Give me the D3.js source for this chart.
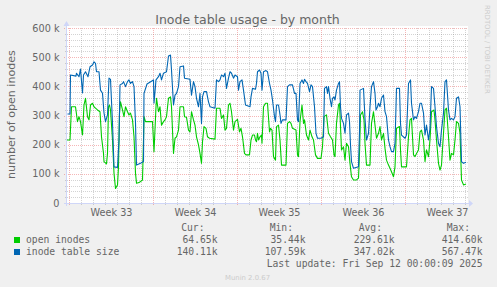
<!DOCTYPE html>
<html>
<head>
<meta charset="utf-8">
<script src="https://cdn.jsdelivr.net/npm/d3@7"></script>
<style>
  body { margin: 0; background: #f0f0f0; }
  svg { display: block; }
  text { font-family: "DejaVu Sans", sans-serif; fill: #666666; }
  .mono { font-family: "DejaVu Sans Mono", monospace; font-size: 9.7px; }
</style>
</head>
<body>
<svg id="chart" width="497" height="287"></svg>
<script>
"use strict";

// Monday 11 Aug 2025 00:00, start of week 33
const start = Date.UTC(2025, 7, 11);
const hour = 3600 * 1000;

// [hours after start, thousands]
const openInodes = [
  [-4,216],[2,216],[5,330],[13,330],[17,279],[20,296],[23,279],[27,233],[30,336],[33,359],
  [37,296],[40,285],[43,336],[47,342],[50,330],[53,325],[57,319],[62,313],[65,227],[69,170],
  [70,142],[75,134],[77,170],[79,330],[81,336],[83,319],[87,216],[90,102],[93,50],[97,62],
  [99,124],[101,308],[103,347],[107,319],[110,296],[113,330],[117,313],[120,302],[123,308],[127,285],
  [130,227],[133,102],[135,68],[140,70],[147,79],[149,216],[150,296],[153,279],[167,279],[170,176],
  [174,330],[175,359],[179,313],[182,330],[185,267],[189,279],[192,285],[195,296],[199,359],[203,364],
  [205,330],[209,170],[212,222],[215,227],[219,250],[222,330],[229,330],[231,296],[235,294],[239,250],
  [242,244],[245,313],[249,285],[252,267],[255,227],[259,199],[262,170],[265,136],[267,210],[270,262],
  [274,256],[277,227],[281,222],[292,219],[295,325],[302,325],[305,290],[309,302],[312,250],[315,256],
  [319,336],[322,342],[325,313],[329,250],[332,279],[337,287],[341,244],[344,256],[347,227],[351,170],
  [354,165],[361,165],[364,216],[367,233],[371,233],[373,216],[375,210],[377,239],[379,216],[382,227],
  [385,233],[386,205],[389,330],[393,342],[397,342],[401,244],[403,256],[406,250],[409,159],[413,147],
  [415,262],[419,267],[422,216],[425,130],[434,130],[437,273],[441,279],[444,273],[447,256],[454,250],
  [457,165],[459,159],[462,279],[466,336],[469,273],[471,285],[475,233],[479,216],[482,250],[486,227],
  [489,216],[493,165],[497,153],[504,153],[507,193],[510,296],[515,302],[519,239],[523,227],[527,216],
  [530,165],[532,159],[535,273],[539,336],[541,342],[543,262],[545,182],[549,193],[552,147],[555,205],
  [559,193],[562,136],[565,90],[569,79],[575,79],[579,85],[581,170],[583,302],[587,313],[590,285],
  [592,205],[595,130],[602,130],[605,273],[609,313],[612,267],[615,222],[619,239],[622,262],[625,216],
  [629,239],[632,188],[635,147],[639,130],[642,119],[645,107],[649,90],[652,124],[655,256],[661,262],
  [663,182],[665,124],[675,124],[679,227],[682,285],[685,290],[689,165],[692,159],[695,170],[699,182],
  [702,244],[705,250],[709,216],[712,142],[715,182],[719,159],[722,216],[725,313],[730,319],[732,285],
  [735,216],[739,136],[742,113],[745,130],[749,239],[752,319],[755,325],[759,227],[762,147],[765,170],
  [769,165],[772,216],[775,279],[779,273],[782,239],[785,79],[789,62],[794,65]
];

const tableSize = [
  [-3,305],[2,305],[3,439],[14,435],[15,445],[20,433],[23,459],[27,377],[29,439],[33,450],
  [38,433],[42,467],[47,473],[50,484],[53,479],[55,450],[60,450],[63,387],[67,376],[70,309],
  [73,279],[77,302],[80,428],[83,424],[87,274],[90,124],[97,122],[100,216],[102,405],[107,410],
  [109,416],[113,399],[117,416],[120,422],[123,410],[127,416],[130,399],[133,274],[135,130],[143,136],
  [149,142],[150,376],[156,408],[169,422],[170,342],[174,422],[179,433],[182,445],[185,422],[189,445],
  [195,450],[199,504],[203,507],[205,456],[209,336],[212,370],[215,376],[219,399],[222,467],[229,470],
  [231,428],[242,424],[245,370],[249,416],[252,399],[255,359],[259,330],[262,376],[265,273],[267,364],
  [270,382],[275,382],[279,347],[282,330],[292,325],[295,422],[299,416],[302,422],[305,439],[309,433],
  [312,445],[315,393],[319,428],[322,450],[325,445],[329,428],[332,439],[337,433],[339,387],[342,416],
  [346,422],[349,387],[353,336],[362,330],[364,364],[367,393],[373,390],[375,410],[377,450],[381,456],
  [384,445],[386,387],[389,450],[394,454],[397,450],[401,410],[404,387],[407,353],[411,296],[413,279],
  [415,336],[419,336],[422,302],[424,273],[427,285],[434,285],[437,399],[441,405],[447,405],[451,376],
  [454,376],[457,285],[459,279],[462,410],[466,422],[469,410],[471,424],[474,416],[477,410],[481,382],
  [484,405],[487,399],[491,330],[494,239],[497,222],[504,222],[509,227],[511,393],[515,399],[517,376],
  [519,399],[522,359],[525,330],[527,359],[530,364],[532,353],[535,387],[539,410],[541,416],[543,330],
  [545,290],[549,273],[552,239],[555,302],[559,308],[561,279],[563,199],[565,142],[569,119],[579,124],
  [581,244],[582,387],[589,393],[592,290],[595,216],[599,239],[602,330],[605,399],[609,416],[612,376],
  [614,319],[617,330],[619,342],[622,330],[625,359],[629,370],[632,313],[635,296],[639,216],[642,193],
  [645,176],[649,176],[652,205],[655,393],[661,393],[663,273],[665,233],[672,222],[675,233],[679,410],
  [683,422],[685,342],[689,285],[692,296],[695,290],[699,313],[702,342],[705,342],[709,308],[712,233],
  [715,267],[719,216],[722,256],[725,399],[729,393],[732,330],[735,262],[739,205],[742,193],[745,250],
  [749,308],[752,416],[755,422],[759,319],[762,285],[765,290],[769,285],[772,296],[775,359],[779,364],
  [782,330],[785,142],[789,136],[794,140]
];

const weeks = [33, 34, 35, 36, 37];
const yTicks = [0, 100, 200, 300, 400, 500, 600];

const seriesNames = ["open inodes", "inode table size"];
const seriesColors = ["#00cc00", "#0066b3"];
const curValues = ["64.65k", "140.11k"];
const minValues = ["35.44k", "107.59k"];
const avgValues = ["229.61k", "347.02k"];
const maxValues = ["414.60k", "567.47k"];

const svg = d3.select("#chart");
const plotLeft = 67, plotRight = 468, plotTop = 28, plotBottom = 203;

const x = d3.scaleUtc()
  .domain([new Date(start - 4 * hour), new Date(start + 798 * hour)])
  .range([plotLeft, plotRight]);
const y = d3.scaleLinear().domain([0, 600]).range([plotBottom, plotTop]);

svg.append("rect").attr("width", 497).attr("height", 287).attr("fill", "#f0f0f0");
svg.append("rect")
  .attr("x", plotLeft).attr("y", plotTop - 2)
  .attr("width", plotRight - plotLeft).attr("height", plotBottom - plotTop + 2)
  .attr("fill", "#ffffff");

const minorColor = "rgba(128,128,128,0.35)";
const majorColor = "rgba(230,80,80,0.42)";

const days = d3.utcDay.range(x.domain()[0], x.domain()[1]);
const mondays = d3.utcMonday.range(x.domain()[0], x.domain()[1]);
const isMonday = (d) => d.getUTCDay() === 1;

const grid = svg.append("g").attr("shape-rendering", "crispEdges");
grid.selectAll(".vminor")
  .data(days.filter((d) => !isMonday(d)))
  .enter().append("line")
  .attr("x1", (d) => Math.round(x(d)) + 0.5).attr("x2", (d) => Math.round(x(d)) + 0.5)
  .attr("y1", plotTop).attr("y2", plotBottom + 2)
  .attr("stroke", minorColor).attr("stroke-dasharray", "1,1");
grid.selectAll(".hminor")
  .data(d3.range(20, 600, 20).filter((v) => v % 100 !== 0))
  .enter().append("line")
  .attr("x1", plotLeft - 2).attr("x2", plotRight)
  .attr("y1", (d) => Math.round(y(d)) + 0.5).attr("y2", (d) => Math.round(y(d)) + 0.5)
  .attr("stroke", minorColor).attr("stroke-dasharray", "1,1");
grid.selectAll(".vmajor")
  .data(mondays)
  .enter().append("line")
  .attr("x1", (d) => Math.round(x(d)) + 0.5).attr("x2", (d) => Math.round(x(d)) + 0.5)
  .attr("y1", plotTop).attr("y2", plotBottom + 3)
  .attr("stroke", majorColor).attr("stroke-dasharray", "1,1");
grid.selectAll(".hmajor")
  .data(yTicks.filter((v) => v > 0))
  .enter().append("line")
  .attr("x1", plotLeft - 3).attr("x2", plotRight)
  .attr("y1", (d) => Math.round(y(d)) + 0.5).attr("y2", (d) => Math.round(y(d)) + 0.5)
  .attr("stroke", majorColor).attr("stroke-dasharray", "1,1");

const line = d3.line()
  .x((d) => x(new Date(start + d[0] * hour)))
  .y((d) => y(d[1]));

[openInodes, tableSize].forEach((data, i) => {
  svg.append("path")
    .datum(data)
    .attr("d", line)
    .attr("fill", "none")
    .attr("stroke", seriesColors[i])
    .attr("stroke-width", 1.1)
    .attr("stroke-linejoin", "round");
});

// axes with arrows
const axisColor = "#cfd6f8";
svg.append("line")
  .attr("x1", plotLeft - 3).attr("x2", plotRight + 1)
  .attr("y1", plotBottom + 0.5).attr("y2", plotBottom + 0.5)
  .attr("stroke", axisColor);
svg.append("line")
  .attr("x1", plotLeft - 0.5).attr("x2", plotLeft - 0.5)
  .attr("y1", plotBottom + 3).attr("y2", plotTop - 4)
  .attr("stroke", axisColor);
svg.append("path")
  .attr("d", `M${plotRight + 1},${plotBottom - 3}L${plotRight + 5},${plotBottom + 0.5}L${plotRight + 1},${plotBottom + 4}Z`)
  .attr("fill", axisColor);
svg.append("path")
  .attr("d", `M${plotLeft - 3.5},${plotTop - 2}L${plotLeft - 0.5},${plotTop - 7}L${plotLeft + 2.5},${plotTop - 2}Z`)
  .attr("fill", axisColor);

const xAxis = d3.axisBottom(x)
  .tickValues(weeks.map((w, i) => new Date(start + (i * 7 + 3.5) * 24 * hour)))
  .tickFormat((d, i) => "Week " + weeks[i])
  .tickSize(0)
  .tickPadding(6);
const gx = svg.append("g").attr("transform", `translate(0,${plotBottom})`).call(xAxis);
gx.select(".domain").remove();
gx.selectAll("text")
  .attr("fill", "#666666")
  .style("font-family", "DejaVu Sans, sans-serif")
  .style("font-size", "9.7px");

const yAxis = d3.axisLeft(y)
  .tickValues(yTicks)
  .tickFormat((d) => (d === 0 ? "0" : d + " k"))
  .tickSize(0)
  .tickPadding(7.5);
const gy = svg.append("g").attr("transform", `translate(${plotLeft},0)`).call(yAxis);
gy.select(".domain").remove();
gy.selectAll("text")
  .attr("fill", "#666666")
  .style("font-family", "DejaVu Sans, sans-serif")
  .style("font-size", "9.7px");

// title and labels
svg.append("text")
  .attr("x", 247.5).attr("y", 24)
  .attr("text-anchor", "middle")
  .style("font-size", "12.5px")
  .text("Inode table usage - by month");

svg.append("text")
  .attr("transform", "translate(14.5,114.5) rotate(-90)")
  .attr("text-anchor", "middle")
  .style("font-size", "11.1px")
  .text("number of open inodes");

svg.append("text")
  .attr("transform", "translate(485,5) rotate(90)")
  .attr("text-anchor", "start")
  .style("fill", "#cccccc")
  .style("font-size", "6.9px")
  .text("RRDTOOL / TOBI OETIKER");

svg.append("text")
  .attr("x", 247.5).attr("y", 280)
  .attr("text-anchor", "middle")
  .style("fill", "#cccccc")
  .style("font-size", "6.9px")
  .text("Munin 2.0.67");

// legend
const legend = svg.append("g");
const columns = [
  { head: "Cur:", headEnd: 204.5, end: 217.5, values: curValues },
  { head: "Min:", headEnd: 293, end: 305.5, values: minValues },
  { head: "Avg:", headEnd: 382, end: 394.5, values: avgValues },
  { head: "Max:", headEnd: 470, end: 482.5, values: maxValues }
];
columns.forEach((c) => {
  legend.append("text").attr("class", "mono")
    .attr("x", c.headEnd).attr("y", 231).attr("text-anchor", "end").text(c.head);
  c.values.forEach((v, i) => {
    legend.append("text").attr("class", "mono")
      .attr("x", c.end).attr("y", 243 + i * 12).attr("text-anchor", "end").text(v);
  });
});
seriesNames.forEach((name, i) => {
  legend.append("rect")
    .attr("x", 14).attr("y", 237 + i * 12)
    .attr("width", 6).attr("height", 6)
    .attr("fill", seriesColors[i]);
  legend.append("text").attr("class", "mono")
    .attr("x", 26).attr("y", 243 + i * 12).text(name);
});
legend.append("text").attr("class", "mono")
  .attr("x", 482.5).attr("y", 267).attr("text-anchor", "end")
  .text("Last update: Fri Sep 12 00:00:09 2025");
</script>
</body>
</html>
